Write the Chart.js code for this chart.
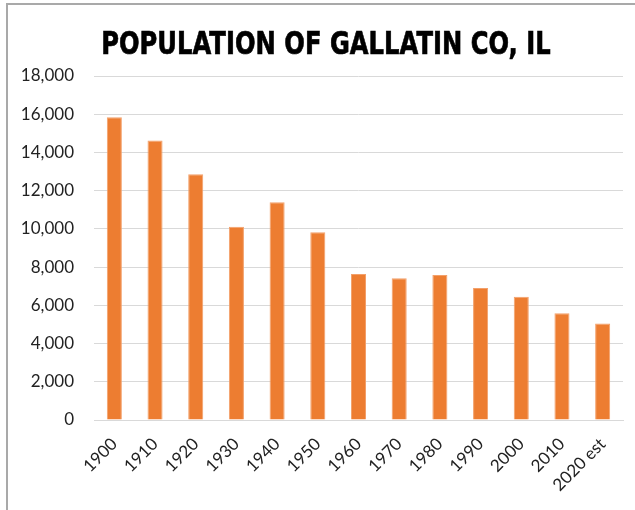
<!DOCTYPE html>
<html>
<head>
<meta charset="utf-8">
<script src="https://cdn.jsdelivr.net/npm/chart.js@4"></script>
<style>
  html, body { margin: 0; padding: 0; background: #fff; }
  #wrap { position: relative; width: 635px; height: 510px; overflow: hidden; }
  #chart { position: absolute; left: 0; top: 0; }
  .frame { position: absolute; left: 6px; top: 3px; width: 700px; height: 600px;
           border-top: 2px solid #a9a9a9; border-left: 2px solid #a9a9a9; pointer-events: none; }
  .title { position: absolute; left: 0; width: 652px; top: 28px; text-align: center;
           font: bold 31.5px/31.5px "DejaVu Sans", sans-serif; color: #000; white-space: nowrap;
           -webkit-text-stroke: 0.7px #000; }
  .title span { display: inline-block; transform: scaleX(0.77); transform-origin: center; }
</style>
</head>
<body>
<div id="wrap">
  <canvas id="chart" width="635" height="510"></canvas>
  <div class="title"><span>POPULATION OF GALLATIN CO, IL</span></div>
  <div class="frame"></div>
</div>
<script>
// census years, last one is an estimate
const years = ['1900', '1910', '1920', '1930', '1940', '1950', '1960', '1970', '1980', '1990', '2000', '2010', '2020 est'];
const population = [15836, 14628, 12856, 10107, 11400, 9818, 7638, 7418, 7590, 6909, 6445, 5589, 5050];
const yTicks = [0, 2000, 4000, 6000, 8000, 10000, 12000, 14000, 16000, 18000];

const tickFont = { family: 'Lato, "Open Sans", sans-serif', size: 17 };
const textColor = '#222';

new Chart(document.getElementById('chart'), {
  type: 'bar',
  data: {
    labels: years,
    datasets: [{
      data: population,
      backgroundColor: '#ED7D31',
      borderColor: '#F3A06A',
      borderWidth: 1,
      barPercentage: 0.37,
      categoryPercentage: 1
    }]
  },
  options: {
    responsive: false,
    animation: false,
    layout: { padding: { left: 17, right: 12, top: 76, bottom: 0 } },
    plugins: {
      legend: { display: false },
      tooltip: { enabled: false },
      title: { display: false }
    },
    scales: {
      x: {
        grid: { display: false },
        border: { color: '#d9d9d9', width: 1 },
        ticks: { color: textColor, font: tickFont, minRotation: 45, maxRotation: 45, padding: 6 },
        afterFit: s => { s.height = 90; }
      },
      y: {
        min: 0,
        max: 18000,
        afterBuildTicks: s => { s.ticks = yTicks.map(v => ({ value: v })); },
        grid: { color: '#d9d9d9', lineWidth: 1, drawTicks: false },
        border: { display: false },
        ticks: {
          color: textColor,
          font: tickFont,
          padding: 20,
          callback: v => v.toLocaleString('en-US')
        },
        afterFit: s => { s.width = 77; }
      }
    }
  }
});
</script>
</body>
</html>
